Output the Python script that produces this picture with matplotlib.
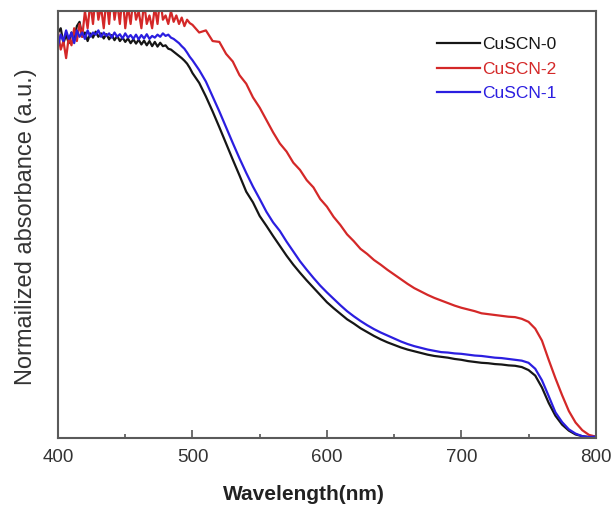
import numpy as np
import matplotlib
matplotlib.use('Agg')
from matplotlib import pyplot as plt
from matplotlib.ticker import MultipleLocator

# wavelength grids: fine steps over the noisy plateau, coarser afterwards
wl_a = np.arange(400, 500, 2)
wl_b = np.arange(500, 805, 5)

cuscn0_a = [0.95, 0.96, 0.925, 0.945, 0.925, 0.95, 0.935, 0.965, 0.975, 0.94,
            0.95, 0.93, 0.948, 0.938, 0.952, 0.94, 0.948, 0.936, 0.946, 0.934,
            0.944, 0.932, 0.942, 0.93, 0.938, 0.928, 0.936, 0.925, 0.934, 0.924,
            0.933, 0.922, 0.931, 0.92, 0.93, 0.918, 0.928, 0.917, 0.926, 0.918,
            0.92, 0.912, 0.91, 0.905, 0.9, 0.895, 0.89, 0.884, 0.877, 0.867]
cuscn0_b = [0.855, 0.832, 0.8, 0.765, 0.728, 0.69, 0.652, 0.615, 0.577, 0.552,
            0.52, 0.497, 0.473, 0.45, 0.427, 0.406, 0.387, 0.369, 0.352, 0.335,
            0.318, 0.304, 0.291, 0.278, 0.268, 0.257, 0.248, 0.239, 0.231, 0.224,
            0.218, 0.212, 0.207, 0.203, 0.199, 0.195, 0.192, 0.19, 0.188, 0.185,
            0.183, 0.18, 0.178, 0.176, 0.175, 0.173, 0.172, 0.17, 0.169, 0.166,
            0.159, 0.146, 0.118, 0.082, 0.052, 0.031, 0.017, 0.008, 0.004, 0.002,
            0.003]

cuscn1_a = [0.92, 0.945, 0.93, 0.955, 0.935, 0.95, 0.925, 0.955, 0.94, 0.95,
            0.935, 0.955, 0.94, 0.95, 0.945, 0.955, 0.94, 0.95, 0.942, 0.948,
            0.938, 0.95, 0.94, 0.946, 0.936, 0.948, 0.938, 0.944, 0.935, 0.945,
            0.934, 0.944, 0.936, 0.946, 0.935, 0.942, 0.938, 0.945, 0.94, 0.948,
            0.942, 0.945, 0.938, 0.935, 0.93, 0.925, 0.918, 0.912, 0.903, 0.893]
cuscn1_b = [0.885, 0.862, 0.835, 0.8, 0.765, 0.728, 0.691, 0.655, 0.621, 0.589,
            0.56, 0.53, 0.505, 0.485, 0.46, 0.437, 0.414, 0.394, 0.375, 0.357,
            0.341, 0.326, 0.311, 0.297, 0.285, 0.274, 0.264, 0.255, 0.247, 0.24,
            0.233, 0.226, 0.22, 0.215, 0.211, 0.207, 0.204, 0.201, 0.2, 0.198,
            0.197, 0.195, 0.193, 0.192, 0.19, 0.188, 0.187, 0.185, 0.183, 0.181,
            0.176, 0.162, 0.135, 0.098, 0.06, 0.037, 0.02, 0.01, 0.004, 0.002,
            0.003]

cuscn2_a = [0.95, 0.91, 0.93, 0.89, 0.94, 0.92, 0.96, 0.93, 0.97, 0.94,
            1.0, 0.96, 1.02, 0.97, 1.04, 0.98, 1.01, 0.96, 1.03, 0.97,
            1.05, 0.98, 1.02, 0.97, 1.04, 0.96, 1.01, 0.97, 1.03, 0.98,
            1.0, 0.96, 1.02, 0.97, 0.99, 0.96, 1.01, 0.97, 1.03, 0.98,
            0.99, 0.97, 1.0, 0.975, 0.99, 0.97, 0.985, 0.965, 0.98, 0.972]
cuscn2_b = [0.968, 0.95, 0.955, 0.93, 0.928, 0.9, 0.882, 0.85, 0.83, 0.798,
            0.774, 0.745, 0.716, 0.69, 0.671, 0.645, 0.628, 0.604, 0.587, 0.56,
            0.542, 0.518, 0.499, 0.477, 0.461, 0.443, 0.431, 0.417, 0.406, 0.394,
            0.383, 0.372, 0.361, 0.351, 0.343, 0.335, 0.328, 0.322, 0.316, 0.31,
            0.305, 0.301, 0.297, 0.292, 0.29, 0.288, 0.286, 0.284, 0.283, 0.279,
            0.272, 0.256, 0.228, 0.183, 0.14, 0.1, 0.063, 0.036, 0.018, 0.007,
            0.003]

series = [
    ('CuSCN-0', cuscn0_a, cuscn0_b, '#161616'),
    ('CuSCN-2', cuscn2_a, cuscn2_b, '#d42828'),
    ('CuSCN-1', cuscn1_a, cuscn1_b, '#2b1ee0'),
]

plt.rcParams['font.family'] = ['Liberation Sans', 'DejaVu Sans']

fig = plt.figure(figsize=(6.11, 5.08), dpi=100)
ax = fig.add_axes([0.095, 0.138, 0.88, 0.84])

wl = np.concatenate([wl_a, wl_b])
for name, part_a, part_b, color in series:
    ax.plot(wl, np.concatenate([part_a, part_b]), color=color, lw=1.6, label=name)

ax.set_xlim(400, 800)
ax.set_ylim(0, 1)
ax.xaxis.set_major_locator(MultipleLocator(100))
ax.xaxis.set_minor_locator(MultipleLocator(50))
ax.set_yticks([])
ax.tick_params(axis='x', which='major', direction='in', length=6, width=1.2,
               color='#555555', labelsize=13.5, labelcolor='#333333', pad=8)
ax.tick_params(axis='x', which='minor', direction='in', length=3, width=1.2,
               color='#555555')
for sp in ax.spines.values():
    sp.set_color('#5a5a5a')
    sp.set_linewidth(1.5)

ax.set_xlabel('Wavelength(nm)', fontsize=15, fontweight='bold', color='#222222')
ax.xaxis.set_label_coords(0.457, -0.11)
ax.set_ylabel('Normailized absorbance (a.u.)', fontsize=17, color='#333333')
ax.yaxis.set_label_coords(-0.04, 0.495)

ax.legend(loc='upper left', bbox_to_anchor=(0.704, 0.94), frameon=False,
          fontsize=12.5, handlelength=2.5, handletextpad=0.15, labelspacing=0.55,
          borderpad=0, borderaxespad=0, labelcolor='linecolor')

fig.savefig('out.png', dpi=100)
